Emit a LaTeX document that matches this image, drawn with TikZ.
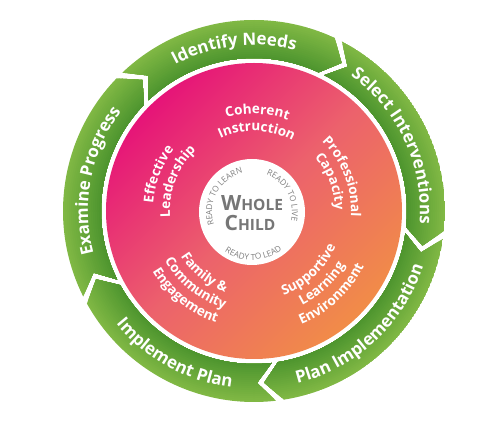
\documentclass[tikz,border=0pt]{standalone}
\usepackage{fontspec}
\newfontfamily\os{Open Sans}
\usetikzlibrary{decorations.text}
\definecolor{glight}{RGB}{128,184,68}
\definecolor{gdark}{RGB}{76,148,46}
\definecolor{pkA}{RGB}{230,20,120}
\definecolor{pkM}{RGB}{236,98,108}
\definecolor{pkB}{RGB}{241,140,72}
\definecolor{wgray}{RGB}{118,118,118}
\definecolor{rgray}{RGB}{128,128,128}
\newcommand\arrowfont{\os\bfseries\fontsize{17pt}{17pt}\selectfont\color{white}}
\newcommand\labfont{\os\bfseries\fontsize{13.5pt}{13.5pt}\selectfont\color{white}}
\newcommand\readyfont{\os\fontsize{8.3pt}{8.3pt}\selectfont\color{rgray}}
\newcommand\grarrow[2]{%
  \pgfmathsetmacro\aA{#1+2.8-1.2}%
  \pgfmathsetmacro\aN{#1-2.8-1.2}%
  \pgfmathsetmacro\aB{#2+2.8+1.2}%
  \pgfmathsetmacro\aT{#2-2.8+1.2}%
  \begin{scope}
    \clip (\aA:191pt) arc[start angle=\aA,end angle=\aB,radius=191pt] -- (\aT:172pt)
      -- (\aB:153pt) arc[start angle=\aB,end angle=\aA,radius=153pt] -- (\aN:172pt) -- cycle;
    \foreach \i in {0,...,19}{%
      \pgfmathsetmacro\rr{191-2*\i}\pgfmathsetmacro\mm{100-5.2*\i}%
      \fill[glight!\mm!gdark] (0,0) circle[radius=\rr pt];}
  \end{scope}}
\newcommand\cwtext[4]{%
  \pgfmathsetmacro\sa{#1+80}\pgfmathsetmacro\ea{#1-80}%
  \path[decorate,decoration={text along path,text align=center,text={|#3|#4}}]
    (\sa:#2pt) arc[start angle=\sa,end angle=\ea,radius=#2pt];}
\newcommand\ccwtext[4]{%
  \pgfmathsetmacro\sa{#1-80}\pgfmathsetmacro\ea{#1+80}%
  \path[decorate,decoration={text along path,text align=center,text={|#3|#4}}]
    (\sa:#2pt) arc[start angle=\sa,end angle=\ea,radius=#2pt];}
\begin{document}
\begin{tikzpicture}[x=1pt,y=1pt]
\useasboundingbox (-254,-219) rectangle (246,211);
\fill[white] (-254,-219) rectangle (246,211);
% green cycle arrows
\grarrow{132}{61}
\grarrow{61}{-10}
\grarrow{-10}{-85}
\grarrow{275}{205}
\grarrow{205}{132}
\cwtext{97}{166}{\arrowfont}{Identify Needs}
\cwtext{25}{166}{\arrowfont}{Select Interventions}
\ccwtext{-47}{178}{\arrowfont}{Plan Implementation}
\ccwtext{-119}{178}{\arrowfont}{Implement Plan}
\cwtext{169}{166}{\arrowfont}{Examine Progress}
% pink disk
\shade[top color=pkA, bottom color=pkB, middle color=pkM, shading angle=45] (0,0) circle[radius=148pt];
% inner labels
\cwtext{88}{97}{\labfont}{Coherent}
\cwtext{88}{80}{\labfont}{Instruction}
\cwtext{21}{97}{\labfont}{Professional}
\cwtext{21}{81}{\labfont}{Capacity}
\cwtext{159}{101}{\labfont}{Effective}
\cwtext{159}{84}{\labfont}{Leadership}
\ccwtext{-47}{89}{\labfont}{Supportive}
\ccwtext{-47}{106}{\labfont}{Learning}
\ccwtext{-47}{123}{\labfont}{Environment}
\ccwtext{-129}{86}{\labfont}{Family {\&}}
\ccwtext{-129}{102}{\labfont}{Community}
\ccwtext{-129}{118}{\labfont}{Engagement}
% centre
\fill[white] (-2,-1) circle[radius=53pt];
\node[text=wgray,font=\os\bfseries,inner sep=0pt] (whole) at (-2,8)
  {\fontsize{21pt}{21pt}\selectfont W\fontsize{15.5pt}{15.5pt}\selectfont HOLE};
\node[text=wgray,font=\os\bfseries,inner sep=0pt] (child) at (-4,-12)
  {\fontsize{21pt}{21pt}\selectfont C\fontsize{15.5pt}{15.5pt}\selectfont HILD};
\begin{scope}[shift={(-2,-1)}]
\cwtext{151}{40}{\readyfont}{READY TO LEARN}
\cwtext{28}{40}{\readyfont}{READY TO LIVE}
\ccwtext{272}{48}{\readyfont}{READY TO LEAD}
\end{scope}
\end{tikzpicture}
\end{document}
